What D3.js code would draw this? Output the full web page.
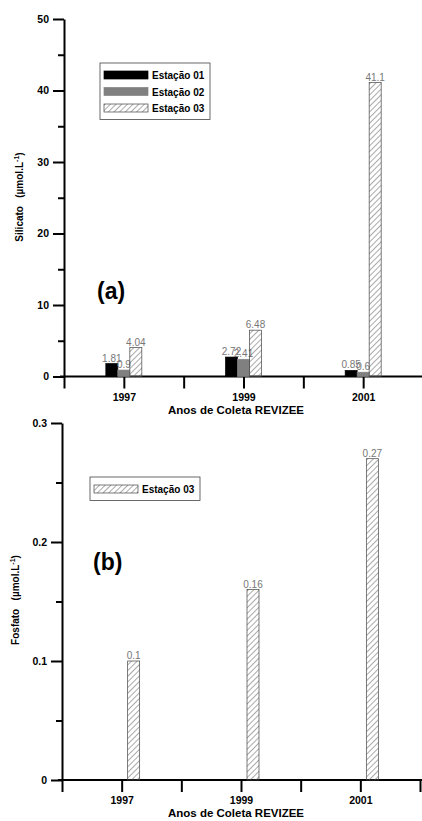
<!DOCTYPE html>
<html>
<head>
<meta charset="utf-8">
<script src="https://cdn.jsdelivr.net/npm/d3@7"></script>
<style>
  body { margin: 0; background: #fff; }
  text { font-family: "Liberation Sans", Arial, sans-serif; }
</style>
</head>
<body>
<div id="viz"></div>
<script>
const years = [1997, 1999, 2001];
const stations = ['Estação 01', 'Estação 02', 'Estação 03'];
const silicato01 = [1.81, 2.72, 0.85];
const silicato02 = [0.9, 2.41, 0.6];
const silicato03 = [4.04, 6.48, 41.1];
const fosfato03 = [0.1, 0.16, 0.27];
const silicatoTicks = [0, 10, 20, 30, 40, 50];
const silicatoMinor = [5, 15, 25, 35, 45];
const fosfatoTicks = [0, 0.1, 0.2, 0.3];
const fosfatoMinor = [0.05, 0.15, 0.25];
const yearTicks = [1996, 1997, 1998, 1999, 2000, 2001, 2002];

const width = 422, height = 821;
const svg = d3.select('#viz').append('svg')
    .attr('width', width)
    .attr('height', height);

// hachura diagonal
const defs = svg.append('defs');
defs.append('pattern')
    .attr('id', 'hatch')
    .attr('patternUnits', 'userSpaceOnUse')
    .attr('width', 4)
    .attr('height', 4)
    .attr('patternTransform', 'rotate(45)')
    .append('line')
    .attr('x1', 0).attr('y1', 0)
    .attr('x2', 0).attr('y2', 4)
    .attr('stroke', '#555')
    .attr('stroke-width', 1);

const fills = ['#000', '#808080', 'url(#hatch)'];
const strokes = ['#000', '#808080', '#444'];
const band = d3.scaleBand().domain(stations).range([-18, 18]);

function drawPanel(opt) {
    const g = svg.append('g');
    const x = d3.scaleLinear().domain([1996, 2002]).range(opt.xRange);
    const y = d3.scaleLinear().domain(opt.yDomain).range(opt.yRange);

    // eixo y
    const yAxis = g.append('g')
        .attr('transform', 'translate(' + opt.xRange[0] + ',0)')
        .call(d3.axisLeft(y).tickValues(opt.ticks).tickSize(11).tickSizeOuter(0).tickPadding(4).tickFormat(opt.fmt));
    yAxis.selectAll('.tick text').attr('font-size', 10.5).attr('font-weight', 'bold').attr('fill', '#000');
    g.append('g')
        .attr('transform', 'translate(' + opt.xRange[0] + ',0)')
        .call(d3.axisLeft(y).tickValues(opt.minor).tickSize(6).tickFormat(''))
        .call(s => s.select('.domain').remove());

    // eixo x
    const xAxis = g.append('g')
        .attr('transform', 'translate(0,' + opt.yRange[0] + ')')
        .call(d3.axisBottom(x).tickValues(yearTicks).tickSize(12).tickSizeOuter(0).tickPadding(5)
            .tickFormat(d => years.includes(d) ? d : ''));
    xAxis.selectAll('.tick text').attr('font-size', 10.5).attr('font-weight', 'bold').attr('fill', '#000');
    xAxis.select('.domain').attr('d', 'M' + (opt.xRange[0] - 4) + ',0H' + width);

    svg.selectAll('.domain, .tick line').attr('stroke', '#000').attr('stroke-width', 2);

    g.append('text')
        .attr('x', 236)
        .attr('y', opt.yRange[0] + 37)
        .attr('text-anchor', 'middle')
        .attr('font-size', 11.5)
        .attr('font-weight', 'bold')
        .text('Anos de Coleta REVIZEE');

    // barras
    opt.series.forEach(s => {
        const i = stations.indexOf(s.name);
        const bars = g.append('g');
        bars.selectAll('rect')
            .data(s.values)
            .enter()
            .append('rect')
            .attr('x', (d, j) => x(years[j]) + band(s.name))
            .attr('y', d => y(d))
            .attr('width', band.bandwidth())
            .attr('height', d => y(0) - y(d))
            .attr('fill', fills[i])
            .attr('stroke', strokes[i])
            .attr('stroke-width', 0.7);
        bars.selectAll('text')
            .data(s.values)
            .enter()
            .append('text')
            .attr('x', (d, j) => x(years[j]) + band(s.name) + band.bandwidth() / 2)
            .attr('y', d => y(d) - 2)
            .attr('text-anchor', 'middle')
            .attr('font-size', 10)
            .attr('fill', '#777')
            .text(d => d);
    });

    // titulo eixo y
    const t = g.append('text')
        .attr('transform', 'translate(' + opt.yLabelPos[0] + ',' + opt.yLabelPos[1] + ') rotate(-90)')
        .attr('text-anchor', 'middle')
        .attr('font-size', 10)
        .attr('font-weight', 'bold');
    t.append('tspan').text(opt.yLabel + '\u00a0\u00a0\u00a0(\u00b5mol.L');
    t.append('tspan').attr('font-size', 7).attr('dy', -4).text('-1');
    t.append('tspan').attr('dy', 4).text(')');

    // letra do painel
    g.append('text')
        .attr('x', opt.letterPos[0])
        .attr('y', opt.letterPos[1])
        .attr('font-size', 23)
        .attr('font-weight', 'bold')
        .text(opt.letter);

    // legenda
    const lg = g.append('g').attr('transform', 'translate(' + opt.legendPos[0] + ',' + opt.legendPos[1] + ')');
    const rowH = 16.5;
    lg.append('rect')
        .attr('width', 110)
        .attr('height', opt.series.length * rowH + 7)
        .attr('fill', '#fff')
        .attr('stroke', '#444')
        .attr('stroke-width', 0.8);
    opt.series.forEach((s, k) => {
        const i = stations.indexOf(s.name);
        lg.append('rect')
            .attr('x', 4)
            .attr('y', 8 + k * rowH)
            .attr('width', 44)
            .attr('height', 8)
            .attr('fill', fills[i])
            .attr('stroke', strokes[i])
            .attr('stroke-width', 0.7);
        lg.append('text')
            .attr('x', 52)
            .attr('y', 16 + k * rowH)
            .attr('font-size', 10)
            .attr('font-weight', 'bold')
            .text(s.name);
    });
}

drawPanel({
    xRange: [64, 423],
    yRange: [376.5, 19],
    yDomain: [0, 50],
    ticks: silicatoTicks,
    minor: silicatoMinor,
    fmt: d3.format('d'),
    series: [
        { name: stations[0], values: silicato01 },
        { name: stations[1], values: silicato02 },
        { name: stations[2], values: silicato03 }
    ],
    yLabel: 'Silicato',
    yLabelPos: [23, 197],
    letter: '(a)',
    letterPos: [97, 299],
    legendPos: [100, 63]
});

drawPanel({
    xRange: [62, 420],
    yRange: [780, 423],
    yDomain: [0, 0.3],
    ticks: fosfatoTicks,
    minor: fosfatoMinor,
    fmt: d => d === 0 ? '0' : d3.format('.1f')(d),
    series: [
        { name: stations[2], values: fosfato03 }
    ],
    yLabel: 'Fosfato',
    yLabelPos: [19, 600],
    letter: '(b)',
    letterPos: [93, 570],
    legendPos: [90, 477]
});
</script>
</body>
</html>
